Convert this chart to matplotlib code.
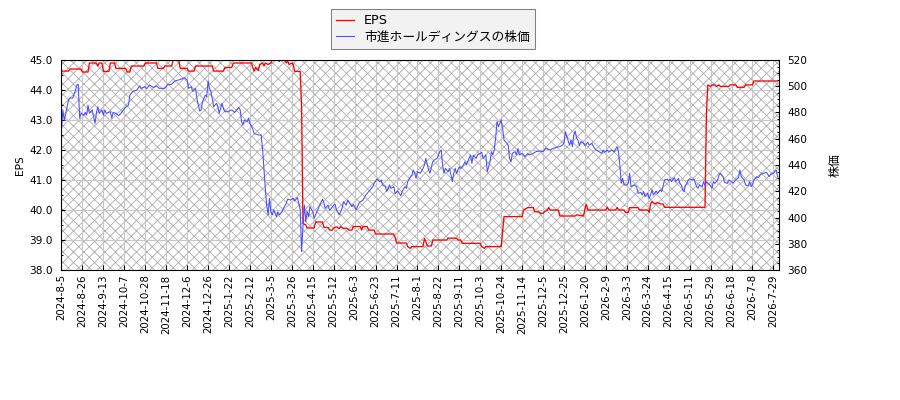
import matplotlib
matplotlib.use("Agg")
import matplotlib.pyplot as plt
from matplotlib.patches import Rectangle
from matplotlib.ticker import MultipleLocator, FixedLocator, FormatStrFormatter

plt.rcParams['font.family'] = ['DejaVu Sans', 'Noto Sans CJK JP']
plt.rcParams['hatch.color'] = '#b0b0b0'
plt.rcParams['hatch.linewidth'] = 0.5

tick_labels = ["2024-8-5", "2024-8-26", "2024-9-13", "2024-10-7", "2024-10-28", "2024-11-18",
               "2024-12-6", "2024-12-26", "2025-1-22", "2025-2-12", "2025-3-5", "2025-3-26",
               "2025-4-15", "2025-5-12", "2025-6-3", "2025-6-23", "2025-7-11", "2025-8-1",
               "2025-8-22", "2025-9-11", "2025-10-3", "2025-10-24", "2025-11-14", "2025-12-5",
               "2025-12-25", "2026-1-20", "2026-2-9", "2026-3-3", "2026-3-24", "2026-4-15",
               "2026-5-11", "2026-5-29", "2026-6-18", "2026-7-8", "2026-7-29"]
tick_step = 15
n_days = 514

# (trading-day index, EPS)
eps_points = [
    (0, 44.63), (5, 44.63), (6, 44.7), (14, 44.7), (15, 44.6), (19, 44.6), (20, 44.9),
    (25, 44.9), (26, 44.8), (27, 44.9), (29, 44.9), (30, 44.62), (34, 44.62), (35, 44.9),
    (38, 44.9), (39, 44.72), (46, 44.72), (47, 44.6), (49, 44.6), (50, 44.8), (59, 44.8),
    (60, 44.9), (68, 44.9), (69, 44.72), (73, 44.72), (74, 44.8), (79, 44.8), (80, 45.0),
    (84, 45.0), (85, 44.72), (90, 44.72), (91, 44.63), (95, 44.63), (96, 44.8), (108, 44.8),
    (109, 44.63), (116, 44.63), (117, 44.75), (122, 44.75), (123, 44.9), (136, 44.9),
    (137, 44.75), (138, 44.63), (139, 44.75), (141, 44.65), (142, 44.85), (144, 44.9),
    (145, 44.8), (146, 44.9), (148, 44.85), (150, 44.9), (151, 45.0), (155, 45.0),
    (156, 44.95), (157, 45.0), (160, 45.0), (161, 44.9), (162, 44.97), (163, 44.85),
    (165, 44.9), (166, 44.85), (167, 44.62), (171, 44.62), (172, 43.4), (173, 39.55),
    (175, 39.5), (176, 39.4), (181, 39.4), (182, 39.6), (187, 39.6), (188, 39.42),
    (191, 39.42), (192, 39.33), (194, 39.33), (195, 39.4), (197, 39.44), (199, 39.38),
    (200, 39.44), (202, 39.38), (204, 39.4), (206, 39.33), (208, 39.33), (209, 39.45),
    (214, 39.45), (215, 39.33), (216, 39.45), (219, 39.45), (220, 39.33), (224, 39.33),
    (225, 39.2), (238, 39.2), (239, 39.1), (240, 38.9), (247, 38.9), (248, 38.78),
    (250, 38.72), (251, 38.78), (259, 38.78), (260, 39.05), (261, 38.95), (262, 38.8),
    (265, 38.8), (266, 39.0), (276, 39.0), (277, 39.06), (283, 39.06), (284, 39.0),
    (286, 39.0), (287, 38.89), (300, 38.89), (301, 38.78), (303, 38.72), (304, 38.78),
    (315, 38.78), (316, 39.3), (317, 39.78), (330, 39.78), (331, 40.0), (334, 40.08),
    (338, 40.08), (339, 39.94), (342, 39.94), (343, 39.89), (345, 39.89), (346, 39.94),
    (348, 40.0), (349, 40.08), (350, 40.0), (356, 40.0), (357, 39.8), (368, 39.8),
    (369, 39.84), (374, 39.8), (375, 40.05), (376, 40.19), (377, 40.0), (390, 40.0),
    (391, 40.1), (392, 40.0), (397, 40.0), (398, 40.08), (399, 40.0), (403, 40.0),
    (404, 39.92), (406, 39.92), (407, 40.08), (413, 40.08), (414, 40.0), (420, 40.0),
    (421, 39.92), (422, 40.2), (423, 40.28), (425, 40.2), (427, 40.25), (429, 40.2),
    (431, 40.2), (432, 40.09), (461, 40.09), (462, 43.2), (463, 44.17), (465, 44.12),
    (466, 44.17), (468, 44.17), (469, 44.12), (471, 44.17), (472, 44.12), (478, 44.12),
    (479, 44.17), (483, 44.17), (484, 44.09), (489, 44.09), (490, 44.17), (495, 44.17),
    (496, 44.3), (513, 44.3)]

# (trading-day index, share price)
price_points = [
    (0, 467), (1, 482), (2, 474), (3, 479), (5, 489.5), (6, 491), (8, 491), (10, 497),
    (11, 501), (12, 501.5), (13, 475.6), (14, 479.4), (16, 478), (17, 480), (18, 478),
    (19, 485.7), (20, 479.4), (22, 482), (23, 477), (24, 471.7), (25, 479.4), (26, 484.4),
    (27, 479.4), (29, 482), (30, 478), (31, 482), (32, 479.4), (35, 480.6), (36, 475.6),
    (37, 480), (39, 479.4), (41, 477.6), (43, 480), (45, 483), (48, 485.7), (49, 493.3),
    (51, 495.9), (54, 497.1), (56, 500.4), (57, 498.4), (60, 499.7), (61, 498), (63, 501),
    (66, 499), (68, 500.4), (70, 498.4), (74, 498.4), (76, 501), (79, 501.5), (81, 504),
    (84, 504.8), (86, 505.5), (88, 506.5), (90, 504.8), (91, 498.4), (93, 499.7), (94, 496),
    (96, 498.4), (97, 490.8), (98, 485.7), (99, 481), (100, 482), (101, 488), (103, 493.3),
    (104, 492), (105, 504), (106, 498.4), (107, 496), (108, 490.8), (109, 484.4), (111, 487),
    (112, 484.4), (113, 479.4), (115, 487), (116, 483), (117, 480.6), (119, 480.6),
    (122, 482), (124, 480), (127, 483.7), (128, 482), (129, 473), (130, 470.5), (131, 474.3),
    (133, 473), (134, 475.6), (135, 471.7), (137, 467.4), (138, 464), (141, 462.9),
    (143, 462.9), (144, 452.7), (145, 437.5), (146, 422.2), (147, 409.5), (148, 401.9),
    (149, 414.6), (150, 404.4), (151, 401.9), (152, 405.7), (153, 403.2), (154, 400.6),
    (155, 404.4), (156, 401.9), (158, 404.4), (159, 407), (161, 410.8), (162, 414),
    (164, 413.3), (166, 414.6), (167, 412.6), (169, 415.2), (170, 410.8), (171, 406),
    (172, 374), (173, 394), (174, 409.5), (175, 396.8), (176, 404.4), (177, 400.6),
    (178, 408.3), (180, 404.4), (181, 399.4), (183, 404.4), (184, 407), (185, 409.5),
    (187, 414), (188, 410.8), (189, 407), (191, 409.5), (192, 405.7), (193, 406.5),
    (195, 409.5), (196, 410), (197, 405.7), (199, 401.9), (201, 407), (202, 412),
    (204, 409.5), (205, 413.3), (207, 410), (208, 408.3), (209, 410), (210, 408.3),
    (211, 405.7), (213, 410.8), (214, 412), (216, 413.3), (218, 417.1), (221, 421),
    (223, 423.5), (224, 426), (226, 429.3), (228, 427.3), (229, 428.6), (230, 424.8),
    (232, 423.5), (233, 419.7), (235, 424.8), (236, 422.2), (238, 423.5), (239, 418.4),
    (241, 420.2), (243, 416.6), (244, 419.7), (246, 423.5), (247, 422.2), (248, 427.3),
    (250, 431.1), (251, 432.4), (252, 436.2), (253, 433.7), (254, 429.8), (255, 434.9),
    (257, 433.7), (259, 437.5), (260, 440), (261, 445), (263, 436.2), (264, 433.7),
    (265, 438.7), (266, 442.5), (267, 443.8), (269, 445), (270, 447.6), (271, 450.2),
    (272, 451.4), (273, 440), (274, 433.7), (275, 437.5), (277, 434.9), (278, 437.5),
    (280, 427.3), (281, 433.7), (282, 437.5), (283, 433.7), (285, 438.7), (286, 437.5),
    (288, 440), (289, 442.5), (290, 440), (292, 445), (293, 447.6), (294, 441.3),
    (295, 447.6), (297, 445), (298, 447.6), (300, 448.9), (301, 449.7), (302, 445),
    (304, 447.6), (305, 434.9), (307, 442.5), (308, 450.2), (309, 447.6), (310, 451.4),
    (311, 460.3), (312, 473), (313, 469.2), (315, 474.3), (316, 467.9), (317, 459),
    (318, 457.8), (320, 455.2), (321, 445), (322, 442.5), (323, 448.9), (325, 450.2),
    (326, 447.6), (327, 452.7), (328, 447.6), (330, 448.9), (332, 446.3), (334, 448.9),
    (335, 447.6), (338, 448.9), (340, 450.2), (343, 450.7), (345, 450.2), (346, 451.4),
    (347, 452.7), (350, 451.4), (352, 452.7), (354, 453.2), (357, 454), (359, 455.2),
    (360, 457.3), (361, 465.4), (362, 461.6), (364, 455.2), (365, 459), (366, 454),
    (367, 462.9), (368, 465.9), (369, 460.3), (370, 459), (371, 454.7), (372, 457.8),
    (374, 456.5), (375, 454.7), (377, 457.3), (378, 455.2), (380, 456.5), (381, 454),
    (383, 451.4), (385, 450.2), (387, 448.9), (388, 451.4), (389, 449.7), (391, 451.4),
    (392, 449.7), (394, 451.4), (396, 450.2), (397, 452.2), (398, 454), (399, 450.2),
    (400, 440), (401, 426), (402, 429.8), (403, 424.8), (405, 424.8), (406, 426),
    (407, 433.7), (408, 423.5), (410, 424.8), (412, 423.5), (413, 418.4), (415, 419.2),
    (416, 417.1), (417, 419.7), (418, 415.9), (420, 418.4), (421, 414.6), (422, 417.1),
    (423, 421), (424, 417.1), (426, 420.2), (427, 418.4), (429, 421), (430, 419.7),
    (432, 428.6), (434, 429.3), (435, 427.8), (436, 429.3), (437, 427.3), (439, 430.4),
    (440, 427.3), (442, 429.8), (443, 426), (444, 424.8), (445, 421), (446, 419.7),
    (447, 424.8), (448, 426), (449, 428.6), (450, 429.3), (452, 428.6), (453, 429.3),
    (455, 423.5), (456, 422.2), (457, 424.8), (459, 423.5), (460, 427.3), (461, 424.2),
    (462, 427.3), (463, 426), (465, 424.2), (466, 422.2), (467, 427.3), (468, 426),
    (470, 428.6), (471, 432.4), (472, 433.7), (474, 431.1), (475, 426.7), (477, 426),
    (478, 428.6), (480, 427.3), (481, 426), (483, 428.6), (485, 430.4), (486, 436.2),
    (487, 431.1), (489, 428.6), (490, 424.8), (492, 424.2), (493, 427.3), (494, 423.5),
    (495, 424.8), (496, 428.6), (498, 431.1), (499, 430.4), (501, 432.9), (503, 433.7),
    (505, 434.4), (507, 431.1), (508, 432.9), (510, 433.7), (512, 436.2), (513, 431.1)]

eps_idx = [p[0] for p in eps_points]
eps_val = [p[1] for p in eps_points]
price_idx = [p[0] for p in price_points]
price_val = [p[1] for p in price_points]

DPI = 126
fig = plt.figure(figsize=(900 / DPI, 400 / DPI), dpi=DPI)
L, R, T, B = 61.5, 779, 60, 270
ax = fig.add_axes([L / 900, 1 - B / 400, (R - L) / 900, (B - T) / 400])
ax.set_facecolor('white')
bg = Rectangle((0, 0), 1, 1, transform=ax.transAxes, facecolor='white',
               edgecolor='#b0b0b0', hatch='xxxx', linewidth=0, zorder=0)
ax.add_patch(bg)
ax.set_axisbelow(True)
ax.grid(True, color='#c8c8c8', linewidth=0.65, zorder=0.5)

ax2 = ax.twinx()

l1, = ax.plot(eps_idx, eps_val, color='#ff0000', linewidth=0.75, label='EPS')
l2, = ax2.plot(price_idx, price_val, color='#4b4bff', linewidth=0.6,
               label='市進ホールディングスの株価')

ax.set_xlim(0, n_days)
ax.set_ylim(38.0, 45.0)
ax2.set_ylim(360, 520)
ax.yaxis.set_major_locator(MultipleLocator(1.0))
ax.yaxis.set_minor_locator(MultipleLocator(0.5))
ax2.yaxis.set_major_locator(MultipleLocator(20))
ax2.yaxis.set_minor_locator(MultipleLocator(5))
ax.yaxis.set_major_formatter(FormatStrFormatter('%.1f'))

ax.xaxis.set_major_locator(FixedLocator([i * tick_step for i in range(len(tick_labels))]))
ax.set_xticklabels(tick_labels, rotation=90, fontsize=5.9)

ax.tick_params(axis='y', which='major', direction='in', length=2.5, width=0.6,
               labelsize=6.0, pad=4.8)
ax.tick_params(axis='y', which='minor', direction='in', length=1.3, width=0.6)
ax2.tick_params(axis='y', which='major', direction='in', length=2.5, width=0.6,
                labelsize=6.0, pad=4.8)
ax2.tick_params(axis='y', which='minor', direction='in', length=1.3, width=0.6)
ax.tick_params(axis='x', which='major', direction='in', length=3.0, width=0.6, pad=2.5)

for a in (ax, ax2):
    for s in a.spines.values():
        s.set_linewidth(0.6)
        s.set_color('black')

ax.set_ylabel('EPS', fontsize=6.0)
ax2.set_ylabel('株価', fontsize=6.8)
ax.yaxis.set_label_coords((25 - L) / (R - L), 0.5)
ax2.yaxis.set_label_coords((829 - L) / (R - L), 0.5)

leg = fig.legend(handles=[l1, l2], loc='upper left', bbox_to_anchor=(331 / 900, 1 - 9 / 400),
                 fontsize=7.3, frameon=True, fancybox=False, borderaxespad=0,
                 handlelength=1.4, handletextpad=0.8, borderpad=0.4, labelspacing=0.3)
leg.get_frame().set_facecolor('#f2f2f2')
leg.get_frame().set_edgecolor('#808080')
leg.get_frame().set_linewidth(0.6)
leg.get_frame().set_alpha(1)

fig.savefig('out.png', dpi=DPI)
